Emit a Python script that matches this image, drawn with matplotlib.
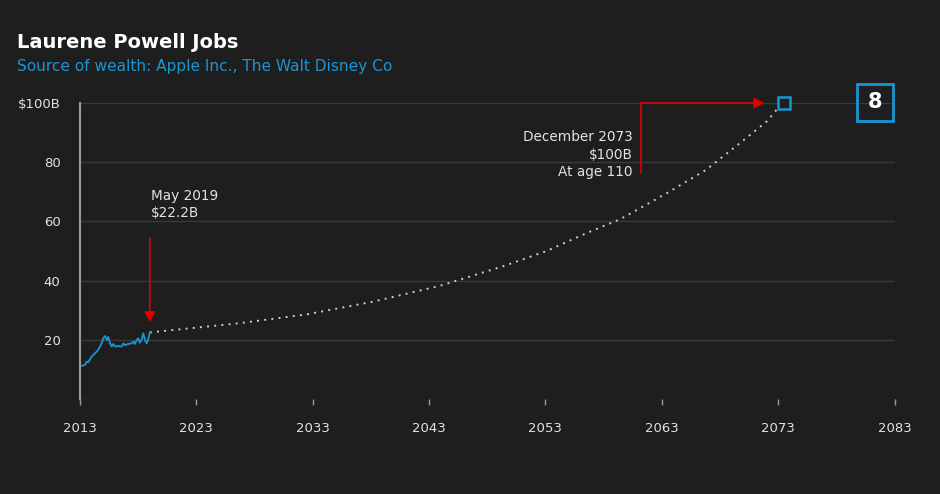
import matplotlib
matplotlib.use("Agg")
import matplotlib.pyplot as plt
from matplotlib.patches import Rectangle

# ---- data ----
hist_years = [2013.15, 2013.43, 2013.57, 2013.7, 2014.0, 2014.29, 2014.57, 2014.86, 2015.0, 2015.15,
              2015.3, 2015.43, 2015.58, 2015.72, 2015.86, 2016.0, 2016.29, 2016.58, 2016.72, 2016.86,
              2017.15, 2017.44, 2017.58, 2017.72, 2017.87, 2018.0, 2018.15, 2018.3, 2018.44, 2018.58,
              2018.73, 2018.87, 2019.0]
hist_values = [11.25, 11.5, 12.6, 12.4, 14.3, 15.4, 16.6, 18.8, 20.5, 21.3,
               19.9, 21.0, 18.8, 17.7, 18.6, 17.7, 17.9, 17.7, 18.8, 18.2,
               18.6, 18.8, 19.4, 18.6, 19.9, 20.5, 19.0, 20.2, 22.2, 19.9,
               18.8, 20.2, 22.5]
proj_years = [2019.0, 2026.7, 2032.5, 2038.2, 2043.9, 2049.4, 2053.1, 2056.5, 2059.4, 2061.1,
              2063.5, 2066.8, 2069.7, 2072.0, 2072.8, 2073.5]
proj_values = [22.5, 25.6, 28.6, 32.9, 38.2, 44.9, 50.0, 56.0, 60.7, 64.4,
               69.7, 77.4, 86.4, 93.7, 97.4, 100.0]
x_ticks = [2013, 2023, 2033, 2043, 2053, 2063, 2073, 2083]
y_ticks = [0, 20, 40, 60, 80, 100]
y_tick_labels = ["", "20", "40", "60", "80", "$100B"]
target_year, target_value = 2073.5, 100.0
now_label = "May 2019\n$22.2B"
target_label = "December 2073\n$100B\nAt age 110"
rank_label = "8"

BG = "#1e1e1e"
GRID = "#3a3a3a"
TXT = "#e2e2e2"
BLUE = "#1b95d1"
RED = "#e00000"

plt.rcParams['font.family'] = ['DejaVu Sans']

fig = plt.figure(figsize=(9.4, 4.94), dpi=100, facecolor=BG)
ax = fig.add_axes([80/940, 95/494, (894.5-80)/940, 296/494], facecolor=BG)

ax.set_xlim(2013, 2083)
ax.set_ylim(0, 100)
for v in y_ticks:
    ax.axhline(v, color=GRID, lw=1, zorder=0)

for s in ['top', 'right', 'bottom']:
    ax.spines[s].set_visible(False)
ax.spines['left'].set_color("#9a9a9a")
ax.spines['left'].set_linewidth(1.5)

ax.set_xticks(x_ticks)
ax.set_xticklabels([str(t) for t in x_ticks])
ax.set_yticks(y_ticks)
ax.set_yticklabels(y_tick_labels)
ax.tick_params(axis='x', colors="#9a9a9a", length=4, width=1, pad=12.5,
               labelcolor=TXT, labelsize=9.5)
ax.tick_params(axis='y', length=0, pad=14, labelcolor=TXT, labelsize=9.5)

# history
ax.plot(hist_years, hist_values, color=BLUE, lw=1.3, zorder=3)
# projection
ax.plot(proj_years, proj_values, color="#cfcfcf", lw=1.4, linestyle=(0, (1, 2.7)), zorder=2)
# target marker
ax.plot([target_year], [target_value], marker='s', markersize=8.5, markerfacecolor=BG,
        markeredgecolor=BLUE, markeredgewidth=1.8, clip_on=False, zorder=5)

# arrow at May 2019
ax.annotate("", xy=(hist_years[-1], 26.0), xytext=(hist_years[-1], 54.4),
            arrowprops=dict(arrowstyle="-|>,head_length=0.6,head_width=0.32", color=RED, lw=1.2,
                            shrinkA=0, shrinkB=0))
ax.text(hist_years[-1] + 0.1, 60.6, now_label, color=TXT, fontsize=9.8, ha='left', va='bottom',
        linespacing=1.25)

# elbow arrow to target
ax.plot([2061.2, 2061.2], [76.4, 100], color=RED, lw=1.2, clip_on=False)
ax.annotate("", xy=(2071.8, 100), xytext=(2061.2, 100),
            arrowprops=dict(arrowstyle="-|>,head_length=0.6,head_width=0.32", color=RED, lw=1.2,
                            shrinkA=0, shrinkB=0), annotation_clip=False)
ax.text(2060.5, 74.3, target_label, color=TXT, fontsize=9.8, ha='right', va='bottom',
        linespacing=1.3, multialignment='right')

# rank box
fig.patches.append(Rectangle((857/940, (494-121)/494), 36/940, 37/494, transform=fig.transFigure,
                             facecolor='none', edgecolor=BLUE, lw=2))
fig.text(875/940, (494-102.5)/494, rank_label, color='white', fontsize=15, fontweight='bold',
         ha='center', va='center')

# titles
fig.text(17/940, (494-42)/494, "Laurene Powell Jobs", color='white', fontsize=14,
         fontweight='bold', ha='left', va='center')
fig.text(17/940, (494-66)/494, "Source of wealth: Apple Inc., The Walt Disney Co", color=BLUE,
         fontsize=11.1, ha='left', va='center')

fig.savefig("out.png", dpi=100, facecolor=BG)
